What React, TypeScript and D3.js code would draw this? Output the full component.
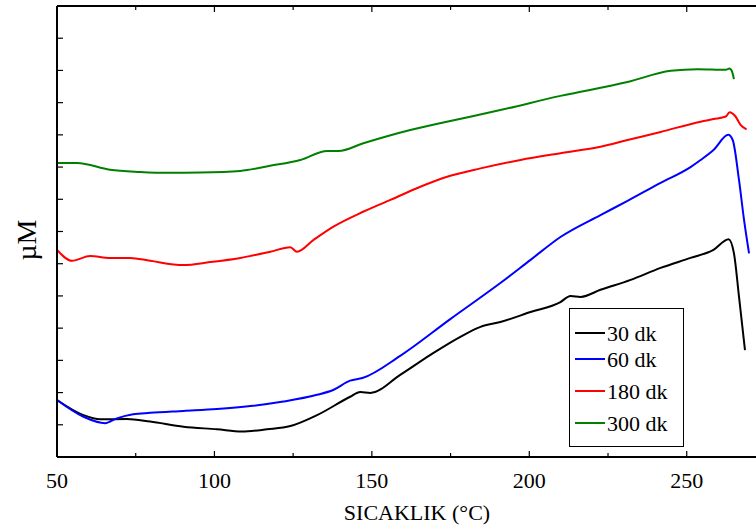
import React from 'react';
import * as d3 from 'd3';

// series labels and colours
const seriesNames = ['30 dk', '60 dk', '180 dk', '300 dk'];
const seriesColors = ['#000000', '#0000ff', '#ff0000', '#008000'];

// temperature (°C) / signal pairs
const dk30: [number, number][] = [
  [50, 1.77], [58.4, 1.3], [63.7, 1.17], [72.2, 1.18], [79.6, 1.1], [90.2, 0.94],
  [100.8, 0.86], [108.7, 0.79], [116.7, 0.86], [124.1, 0.96], [132.6, 1.3],
  [143.1, 1.87], [146.3, 2.02], [149.5, 1.99], [159, 2.55], [168.6, 3.17],
  [178.1, 3.73], [184.5, 4.04], [190.8, 4.19], [200.4, 4.5], [209.9, 4.81],
  [213.1, 5.0], [216.3, 4.97], [222.6, 5.19], [232.2, 5.5], [241.7, 5.87],
  [251.2, 6.18], [258.5, 6.43], [263.3, 6.76], [265.0, 6.32], [266.6, 4.98],
  [268.5, 3.32],
];
const dk60: [number, number][] = [
  [50, 1.77], [58.4, 1.25], [65.3, 1.05], [69, 1.2], [74.2, 1.33], [79.6, 1.37],
  [90.2, 1.43], [100.8, 1.49], [111.4, 1.58], [121.9, 1.72], [132.6, 1.93],
  [137.7, 2.08], [143.1, 2.37], [147, 2.45], [159, 3.14], [174.9, 4.28],
  [190.8, 5.4], [200.4, 6.12], [209.9, 6.83], [222.6, 7.51], [231.2, 7.95],
  [241.7, 8.51], [251.2, 9.0], [254.4, 9.22], [258.5, 9.53], [263.2, 10.0],
  [264.6, 9.84], [266.6, 8.6], [268.2, 7.36], [269.8, 6.32],
];
const dk180: [number, number][] = [
  [50, 6.43], [54.8, 6.09], [60.5, 6.24], [66.8, 6.18], [73.2, 6.18], [79.6, 6.09],
  [90.1, 5.96], [98.6, 6.05], [108.2, 6.18], [117.7, 6.37], [124.1, 6.51],
  [126.2, 6.37], [131.5, 6.74], [137.8, 7.15], [147.4, 7.62], [155.9, 7.98],
  [165.4, 8.39], [173.9, 8.7], [184.5, 8.96], [197.2, 9.22], [209.9, 9.43],
  [222.6, 9.63], [231.2, 9.84], [241.7, 10.09], [254.4, 10.41], [258.5, 10.49],
  [262.4, 10.57], [263.6, 10.7], [265.5, 10.57], [267.1, 10.31], [269.0, 10.17],
];
const dk300: [number, number][] = [
  [50, 9.13], [56.4, 9.13], [66.8, 8.92], [76.4, 8.85], [85, 8.82], [95.5, 8.83],
  [108.2, 8.88], [117.7, 9.04], [127.3, 9.22], [135.8, 9.5], [139.4, 9.5],
  [147.3, 9.74], [162.2, 10.15], [174.9, 10.43], [190.8, 10.77], [209.9, 11.21],
  [231.2, 11.64], [244.9, 11.99], [253.5, 12.04], [262.4, 12.02], [263.6, 12.06],
  [264.3, 11.99], [265.0, 11.73],
];

const xTicks = [50, 75, 100, 125, 150, 175, 200, 225, 250];
const yTicks = [1, 2, 3, 4, 5, 6, 7, 8, 9, 10, 11, 12, 13];

const width = 756;
const height = 527;
const font = '"Liberation Serif", "Times New Roman", serif';

const App = () => {
  const left = 57;
  const top = 6;
  const bottom = 457;

  const x = d3.scaleLinear().domain([50, 272]).range([left, width]);
  const y = d3.scaleLinear().domain([0, 14]).range([bottom, top]);

  const line = d3
    .line<[number, number]>()
    .x((d) => x(d[0]))
    .y((d) => y(d[1]))
    .curve(d3.curveMonotoneX);

  const series = [dk30, dk60, dk180, dk300];
  // legend row centres (uneven in the original)
  const legendRows = [333, 359, 391, 423];

  return (
    <svg
      width={width}
      height={height}
      style={{ position: 'absolute', left: 0, top: 0, background: '#fff' }}
      fontFamily={font}
    >
      {/* data lines */}
      {series.map((s, i) => (
        <path key={i} d={line(s) || ''} fill="none" stroke={seriesColors[i]} strokeWidth={2} />
      ))}

      {/* frame */}
      <line x1={left} x2={width} y1={top} y2={top} stroke="#000" strokeWidth={2} />
      <line x1={left} x2={width} y1={bottom} y2={bottom} stroke="#000" strokeWidth={2} />
      <line x1={left} x2={left} y1={top} y2={bottom} stroke="#000" strokeWidth={2} />

      {/* x ticks top & bottom, inward */}
      {xTicks.map((t) => {
        const len = t % 50 === 0 ? 6 : 4;
        return (
          <g key={t}>
            <line x1={x(t)} x2={x(t)} y1={bottom} y2={bottom - len} stroke="#000" strokeWidth={1.2} />
            <line x1={x(t)} x2={x(t)} y1={top} y2={top + len} stroke="#000" strokeWidth={1.2} />
            {t % 50 === 0 && (
              <text x={x(t)} y={488} textAnchor="middle" fontSize={22}>
                {t}
              </text>
            )}
          </g>
        );
      })}

      {/* y ticks, inward, no labels */}
      {yTicks.map((t) => (
        <line key={t} x1={left} x2={left + 6} y1={y(t)} y2={y(t)} stroke="#000" strokeWidth={1.2} />
      ))}

      {/* axis titles */}
      <text x={417} y={520} textAnchor="middle" fontSize={22}>
        SICAKLIK (°C)
      </text>
      <text transform="translate(36,240) rotate(-90)" textAnchor="middle" fontSize={28}>
        µM
      </text>

      {/* legend */}
      <rect x={569.5} y={308.5} width={114} height={138} fill="#fff" stroke="#000" strokeWidth={1} />
      {seriesNames.map((name, i) => (
        <g key={name}>
          <line x1={575} x2={605} y1={legendRows[i]} y2={legendRows[i]} stroke={seriesColors[i]} strokeWidth={2} />
          <text x={607} y={legendRows[i] + 7.5} fontSize={22}>
            {name}
          </text>
        </g>
      ))}
    </svg>
  );
};

export default App;
